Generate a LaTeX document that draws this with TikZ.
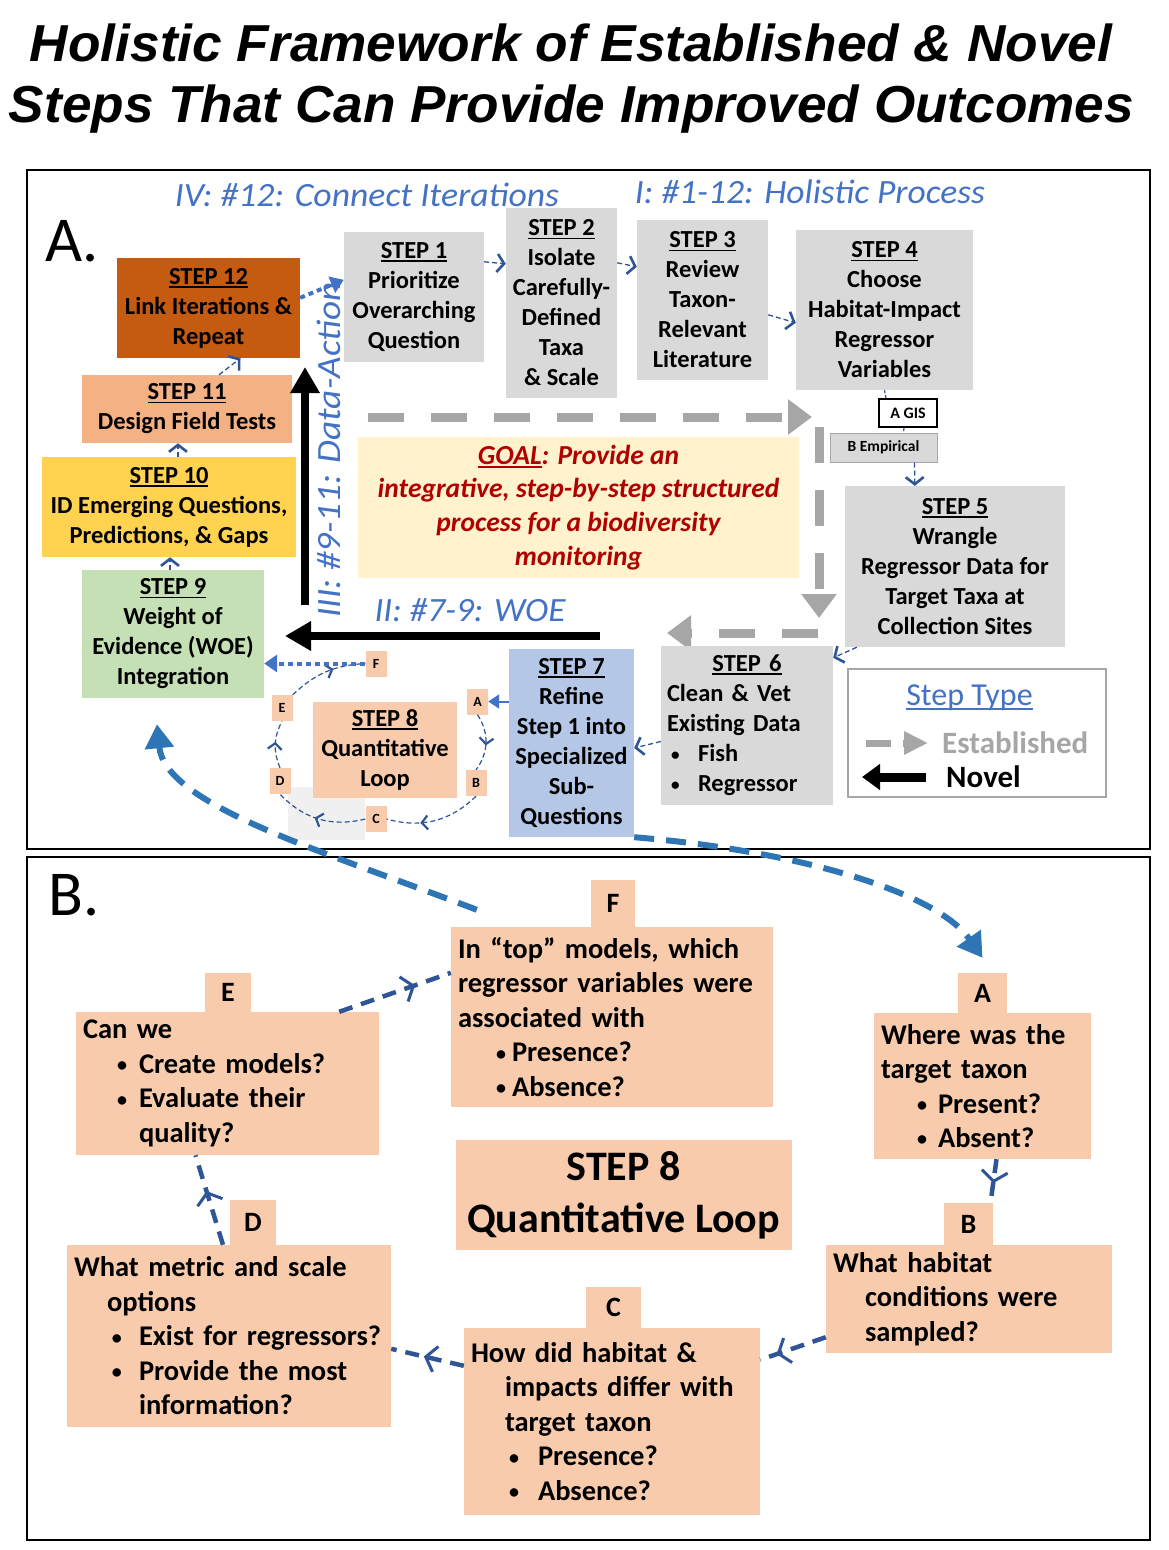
\documentclass[tikz,border=0pt]{standalone}
\usepackage{fontspec}
\usepackage{graphicx}
\setmainfont{Carlito}
\newfontfamily\titlefont{Liberation Sans}
\usetikzlibrary{arrows.meta,calc,decorations.markings}
\definecolor{boxgray}{HTML}{D9D9D9}
\definecolor{sxiic}{HTML}{C55A11}
\definecolor{sxic}{HTML}{F4B183}
\definecolor{sxc}{HTML}{FFD34F}
\definecolor{sixc}{HTML}{C5E0B4}
\definecolor{sviic}{HTML}{B4C7E7}
\definecolor{peach}{HTML}{F8CBAD}
\definecolor{goalc}{HTML}{FFF2CC}
\definecolor{labblue}{HTML}{4472C4}
\definecolor{dblue}{HTML}{2F5597}
\definecolor{bblue}{HTML}{2E75B6}
\definecolor{goalred}{HTML}{B00000}
\definecolor{estgray}{HTML}{A6A6A6}
\newcommand\ulin[1]{\leavevmode\setbox0=\hbox{#1}\rlap{\rule[-0.14em]{\wd0}{0.075em}}\box0}
\newcommand\stp[1]{\ulin{STEP #1}}
\newcommand\smbul{\raisebox{0.06em}{\scalebox{0.7}{\textbullet}}}
\newcommand\qitem[2]{\makebox[#2pt][l]{\hspace*{#1pt}\smbul}}
\tikzset{
  stepbox/.style={fill=boxgray, inner sep=0pt, align=center, font=\fontsize{24.5}{30}\selectfont\bfseries},
  qbox/.style={fill=peach, inner xsep=7pt, inner ysep=0pt, align=left, font=\fontsize{28.5}{34.5}\selectfont\bfseries},
  qtab/.style={fill=peach, inner sep=0pt, font=\fontsize{28}{30}\selectfont\bfseries},
  lbox/.style={fill=peach, inner sep=0pt, minimum width=21pt, minimum height=26pt, font=\fontsize{14}{14}\selectfont\bfseries},
  lab/.style={text=labblue, inner sep=0pt, font=\fontsize{34}{36}\selectfont\itshape},
  thinconn/.style={draw=dblue, line width=1.3pt, dash pattern=on 5pt off 3pt, -{Straight Barb[length=7pt,width=18pt,line width=2.6pt]}},
  thinline/.style={draw=dblue, line width=1.2pt, dash pattern=on 3pt off 2pt},
  loopconn/.style={draw=dblue, line width=1.2pt, dash pattern=on 5pt off 3pt},
  midtip/.style={postaction={decorate}, decoration={markings, mark=at position #1 with {\arrow{Straight Barb[length=6pt,width=14pt,line width=2.2pt]}}}},
  qconn/.style={draw=dblue, line width=4.5pt, dash pattern=on 14pt off 9pt},
  qtip/.style={postaction={decorate}, decoration={markings, mark=at position #1 with {\arrow{Straight Barb[length=10pt,width=26pt,line width=3pt]}}}},
  dotconn/.style={draw=labblue, line width=4pt, dash pattern=on 5pt off 4pt, -{Triangle[length=13pt,width=17pt]}},
  solidtip/.style={draw=labblue, line width=2pt, -{Triangle[length=11pt,width=14pt]}},
  bigcurve/.style={draw=bblue, line width=6pt, dash pattern=on 20pt off 12pt, -{Triangle[length=24pt,width=28pt]}},
  estarrow/.style={draw=estgray, line width=9pt, dash pattern=on 36pt off 27pt, -{Triangle[length=24pt,width=34pt]}},
  novel/.style={draw=black, line width=8pt, -{Triangle[length=26pt,width=28pt]}},
}
\begin{document}
\begin{tikzpicture}[x=1pt,y=-1pt]
\useasboundingbox (0,0) rectangle (1169,1550);
\fill[white] (0,0) rectangle (1169,1550);

% title
\node[anchor=base, inner sep=0pt] (title1) at (571,61) {\resizebox{1082pt}{\height}{\titlefont\bfseries\itshape\fontsize{52}{52}\selectfont Holistic Framework of Established \& Novel}};
\node[anchor=base, inner sep=0pt] (title2) at (571.5,122) {\resizebox{1125pt}{\height}{\titlefont\bfseries\itshape\fontsize{52}{52}\selectfont Steps That Can Provide Improved Outcomes}};

% panels
\draw[line width=2pt] (27,170) rectangle (1150,849);
\draw[line width=2pt] (27,857) rectangle (1150,1540);
\node[font=\fontsize{64}{64}\selectfont, inner sep=0pt] (Alab) at (72,241) {A.};
\node[font=\fontsize{64}{64}\selectfont, inner sep=0pt] (Blab) at (74,895) {B.};

% section labels
\node[lab] (lab4) at (367,195) {\resizebox{384pt}{\height}{IV: \#12: Connect Iterations}};
\node[lab] (lab1) at (810,192) {\resizebox{350pt}{\height}{I: \#1-12: Holistic Process}};
\node[lab] (lab2) at (470,610) {\resizebox{191pt}{\height}{II: \#7-9: WOE}};
\node[lab, rotate=90] (lab3) at (329,450) {\resizebox{335pt}{\height}{III: \#9-11: Data-Action}};

% established arrows
\coordinate (e1a) at (368,417); \coordinate (e1b) at (812,417);
\coordinate (e2a) at (819,427); \coordinate (e2b) at (819,618);
\coordinate (e3a) at (818,633); \coordinate (e3b) at (667,633);
\draw[estarrow] (e1a) -- (e1b);
\draw[estarrow] (e2a) -- (e2b);
\draw[estarrow] (e3a) -- (e3b);

% goal
\node[fill=goalc, minimum width=441pt, minimum height=141pt, inner sep=0pt, align=center, text=goalred, font=\fontsize{27.5}{33.8}\selectfont\bfseries\itshape] (goal) at (578.5,507.5)
 {\ulin{GOAL}: Provide an\\integrative, step-by-step structured\\process for a biodiversity\\monitoring};

% step boxes
\node[stepbox, fill=sxiic, minimum width=183pt, minimum height=100pt] (s12) at (208.5,308) {\stp{12}\\Link Iterations \&\\Repeat};
\node[stepbox, fill=sxic, minimum width=210pt, minimum height=68pt] (s11) at (187,409) {\stp{11}\\Design Field Tests};
\node[stepbox, fill=sxc, minimum width=254pt, minimum height=100pt] (s10) at (169,507) {\stp{10}\\ID Emerging Questions,\\Predictions, \& Gaps};
\node[stepbox, fill=sixc, minimum width=182pt, minimum height=128pt] (s9) at (173,634) {\stp{9}\\Weight of\\Evidence (WOE)\\Integration};
\node[stepbox, minimum width=140pt, minimum height=130pt] (s1) at (414,297) {\stp{1}\\Prioritize\\Overarching\\Question};
\node[stepbox, minimum width=111pt, minimum height=190pt] (s2) at (561.5,303) {\stp{2}\\Isolate\\Carefully-\\Defined\\Taxa\\\& Scale};
\node[stepbox, minimum width=131pt, minimum height=160pt] (s3) at (702.5,300) {\stp{3}\\Review\\Taxon-\\Relevant\\Literature};
\node[stepbox, minimum width=177pt, minimum height=160pt] (s4) at (884.5,310) {\stp{4}\\Choose\\Habitat-Impact\\Regressor\\Variables};
\node[fill=white, draw=black, line width=2.2pt, minimum width=58pt, minimum height=28pt, inner sep=0pt, font=\fontsize{16}{18}\selectfont\bfseries] (agis) at (908,413) {A GIS};
\node[fill=boxgray, draw=gray!70, line width=1pt, minimum width=107pt, minimum height=29pt, inner sep=0pt, font=\fontsize{15.5}{18}\selectfont\bfseries] (bemp) at (883.5,447.5) {B Empirical};
\node[stepbox, minimum width=220pt, minimum height=161pt] (s5) at (955,566.5) {\stp{5}\\Wrangle\\Regressor Data for\\Target Taxa at\\Collection Sites};
\node[stepbox, align=left, inner xsep=6pt, text width=160pt, minimum width=172pt, minimum height=159pt] (s6) at (747,725.5)
 {\makebox[160pt]{\stp{6}}\\Clean \& Vet\\Existing Data\\\makebox[31pt][l]{\hspace*{4pt}\smbul}Fish\\\makebox[31pt][l]{\hspace*{4pt}\smbul}Regressor};
\node[stepbox, fill=sviic, minimum width=125pt, minimum height=188pt] (s7) at (571.5,743) {\stp{7}\\Refine\\Step 1 into\\Specialized\\Sub-\\Questions};

% faint patch
\fill[gray!12] (288,787) rectangle (365,840);

\node[stepbox, fill=peach, minimum width=144pt, minimum height=96pt] (s8s) at (385,750) {\stp{8}\\Quantitative\\Loop};
\node[lbox] (la) at (477.5,701.5) {A};
\node[lbox] (lb) at (476,783) {B};
\node[lbox] (lc) at (376,819) {C};
\node[lbox] (ld) at (280,781) {D};
\node[lbox] (le) at (282,708) {E};
\node[lbox] (lf) at (376,663.5) {F};

% legend
\node[draw=gray!70, line width=1.5pt, fill=white, minimum width=258pt, minimum height=128pt, inner sep=0pt] (legend) at (977,733) {};
\node[text=labblue, inner sep=0pt, font=\fontsize{32}{34}\selectfont] (sttl) at (969.5,698) {\ulin{Step Type}};
\node[anchor=west, inner sep=0pt, text=estgray, font=\fontsize{31}{33}\selectfont\bfseries] (est) at (942,743) {Established};
\node[anchor=west, inner sep=0pt, font=\fontsize{31}{33}\selectfont\bfseries] (nov) at (946,777) {Novel};
\coordinate (lg1a) at (866,743); \coordinate (lg1b) at (928,743);
\coordinate (lg2a) at (926,777); \coordinate (lg2b) at (862,777);
\draw[draw=estgray, line width=7pt, dash pattern=on 25pt off 12pt, -{Triangle[length=24pt,width=22pt]}] (lg1a) -- (lg1b);
\draw[draw=black, line width=9pt, -{Triangle[length=18pt,width=25pt]}] (lg2a) -- (lg2b);

% novel arrows
\coordinate (n1a) at (600,636); \coordinate (n1b) at (285,636);
\coordinate (n2a) at (305,605); \coordinate (n2b) at (305,367);
\draw[novel] (n1a) -- (n1b);
\draw[novel] (n2a) -- (n2b);

% panel A connectors
\draw[dotconn] ($(s12.north east)+(0,40)$) -- ($(s1.north west)+(0,48)$);
\draw[thinconn] ($(s11.north)+(32,0)$) -- ($(s12.south)+(32,0)$);
\draw[thinconn] ($(s10.north)+(9,0)$) -- ($(s11.south)+(-9,0)$);
\draw[thinconn] ($(s9.north)+(-3,0)$) -- ($(s10.south)+(1,0)$);
\draw[thinconn] ($(s1.north east)+(0,30)$) -- ($(s2.north west)+(0,56)$);
\draw[thinconn] ($(s2.north east)+(0,55)$) -- ($(s3.north west)+(0,47)$);
\draw[thinconn] ($(s3.north east)+(0,95)$) -- ($(s4.north west)+(0,93)$);
\draw[thinline] (s4.south) -- ($(agis.north west)+(8,0)$);
\draw[thinline] ($(agis.south)+(-4,0)$) -- ($(bemp.north)+(20,0)$);
\draw[thinconn] ($(bemp.south)+(31,0)$) -- ($(s5.north west)+(70,0)$);
\draw[thinconn] ($(s5.south west)+(12,0)$) -- ($(s6.north east)+(0,12)$);
\draw[thinconn] ($(s6.west)+(0,16)$) -- ($(s7.east)+(0,5)$);
\draw[solidtip] (la.east -| s7.west) -- (la.east);
\draw[loopconn, midtip=0.55] (la.south) to[bend left=35] (lb.north);
\draw[loopconn, midtip=0.65] (lb.south) to[bend left=30] (lc.east);
\draw[loopconn, midtip=0.55] (lc.west) to[bend left=30] (ld.south);
\draw[loopconn, midtip=0.55] (ld.north) to[bend left=25] (le.south);
\draw[loopconn, midtip=0.6] (le.north east) to[bend left=20] (lf.west);
\draw[dotconn] (lf.west) -- (lf.west -| s9.east);

% panel B boxes
\node[qbox, minimum width=322pt, minimum height=180pt, text width=308pt] (Fb) at (612,1017)
 {In “top” models, which\\regressor variables were\\associated with\\\qitem{38}{54}Presence?\\\qitem{38}{54}Absence?};
\node[qtab, minimum width=44pt, minimum height=47pt] (Ftab) at (613,903.5) {F};
\node[qbox, minimum width=303pt, minimum height=143pt, text width=289pt] (Eb) at (227.5,1083.5)
 {Can we\\\qitem{34}{56}Create models?\\\qitem{34}{56}Evaluate their\\\hspace*{56pt}quality?};
\node[qtab, minimum width=46pt, minimum height=39pt] (Etab) at (228,992.5) {E};
\node[qbox, minimum width=217pt, minimum height=146pt, text width=203pt] (Ab) at (982.5,1086)
 {Where was the\\target taxon\\\qitem{36}{57}Present?\\\qitem{36}{57}Absent?};
\node[qtab, minimum width=49pt, minimum height=40pt] (Atab) at (982.5,993) {A};
\node[fill=peach, minimum width=336pt, minimum height=110pt, inner sep=0pt, align=center, font=\fontsize{42}{52}\selectfont\bfseries] (s8b) at (623.5,1195) {STEP 8\\Quantitative Loop};
\node[qbox, minimum width=286pt, minimum height=108pt, text width=272pt] (Bb) at (969,1299)
 {What habitat\\\hspace*{32pt}conditions were\\\hspace*{32pt}sampled?};
\node[qtab, minimum width=49pt, minimum height=42pt] (Btab) at (968.5,1224) {B};
\node[qbox, minimum width=296pt, minimum height=187pt, text width=282pt] (Cb) at (612,1421.5)
 {How did habitat \&\\\hspace*{34pt}impacts differ with\\\hspace*{34pt}target taxon\\\qitem{38}{67}Presence?\\\qitem{38}{67}Absence?};
\node[qtab, minimum width=55pt, minimum height=41pt] (Ctab) at (613.5,1307.5) {C};
\node[qbox, minimum width=324pt, minimum height=182pt, text width=310pt] (Db) at (229,1336)
 {What metric and scale\\\hspace*{33pt}options\\\qitem{38}{65}Exist for regressors?\\\qitem{38}{65}Provide the most\\\hspace*{65pt}information?};
\node[qtab, minimum width=46pt, minimum height=45pt] (Dtab) at (253,1222.5) {D};

% panel B connectors
\draw[qconn, qtip=0.68] ($(Eb.north east)+(-40,0)$) -- ($(Fb.north west)+(0,46)$);
\draw[qconn, qtip=0.55] ($(Ab.south)+(14,0)$) -- ($(Btab.north)+(22,0)$);
\draw[qconn, qtip=0.75] ($(Bb.south west)+(0,-16)$) -- ($(Cb.north east)+(0,32)$);
\draw[qconn, qtip=0.55] ($(Cb.north west)+(0,38)$) -- ($(Db.north east)+(0,104)$);
\draw[qconn, qtip=0.6] ($(Db.north)+(-6,0)$) -- ($(Eb.south)+(-32,0)$);

% big cross-panel curves
\draw[bigcurve] ($(Fb.north west)+(26,-17)$) .. controls (320,850) and (165,805) .. ($(s9.south)+(-16,26)$);
\draw[bigcurve] (s7.south east) .. controls (790,850) and (935,890) .. ($(Atab.north)+(0,-15)$);
\end{tikzpicture}
\end{document}
